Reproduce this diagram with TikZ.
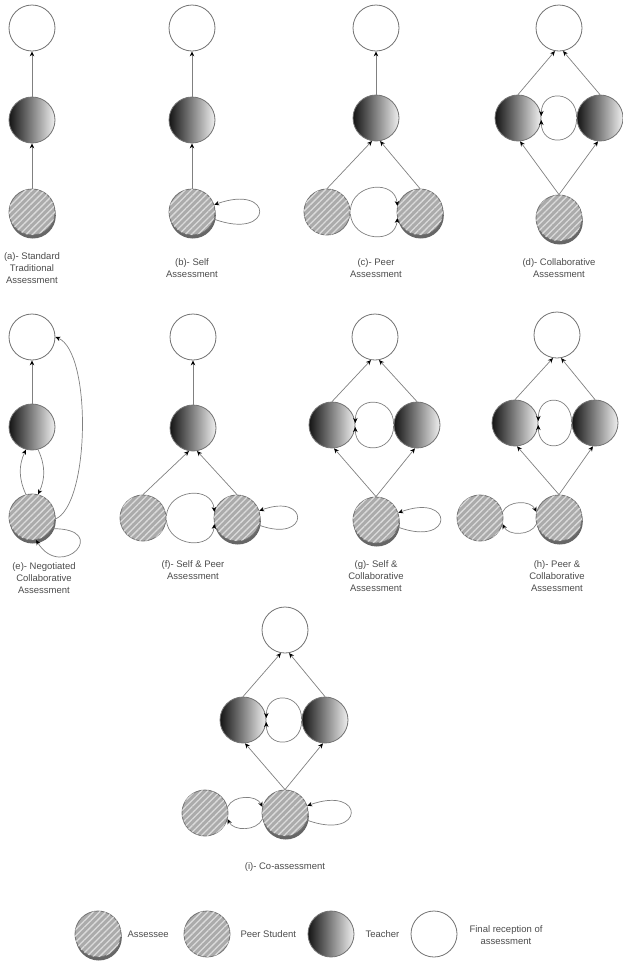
\documentclass[tikz,border=0pt]{standalone}
\usepackage{fontspec}
\setmainfont{Liberation Sans}
\usetikzlibrary{arrows.meta,patterns.meta,shadows}
\begin{document}
\begin{tikzpicture}[x=1pt,y=1pt,
 base/.style={circle, minimum size=46pt, inner sep=0pt, draw=black!55, line width=0.8pt},
 fin/.style={base, fill=white},
 teach/.style={base, left color=black!92, right color=black!6},
 peer/.style={base, fill=black!33, postaction={pattern={Lines[angle=45,distance=4.5pt,line width=1.3pt]}, pattern color=black!14}},
 asse/.style={peer, drop shadow={shadow xshift=0.8pt, shadow yshift=-3.5pt, fill=black!60, opacity=1}},
 con/.style={draw=black!50, line width=0.7pt, -{Stealth[length=5pt,width=4.5pt,color=black]}},
 lbl/.style={font=\fontsize{9.5}{12}\selectfont, text=black!70, align=center}]
\useasboundingbox (0,0) rectangle (623,-967);

% (a)
\node[fin] (aF) at (32,-28) {};
\node[teach] (aT) at (32,-120) {};
\node[asse] (aA) at (32,-212) {};
\draw[con] (aA) -- (aT);
\draw[con] (aT) -- (aF);
\node[lbl] (aL) at (32,-268) {(a)- Standard\\Traditional\\Assessment};

% (b)
\node[fin] (bF) at (192,-28) {};
\node[teach] (bT) at (192,-120) {};
\node[asse] (bA) at (192,-212) {};
\draw[con] (bA) -- (bT);
\draw[con] (bT) -- (bF);
\draw[con] (bA.-18) to[out=-20,in=20,distance=64pt] (bA.18);
\node[lbl] (bL) at (192,-268) {(b)- Self\\Assessment};

% (c)
\node[fin] (cF) at (376,-28) {};
\node[teach] (cT) at (376,-118) {};
\node[peer] (cP) at (327,-212) {};
\node[asse] (cA) at (420,-212) {};
\draw[con] (cP.north) -- (cT.-100);
\draw[con] (cA.north) -- (cT.-80);
\draw[con] (cT) -- (cF);
\draw[con] (cP.5) to[out=85,in=95,distance=27pt] (cA.165);
\draw[con] (cP.-5) to[out=-85,in=-95,distance=27pt] (cA.-165);
\node[lbl] (cL) at (376,-268) {(c)- Peer\\Assessment};

% (d)
\node[fin] (dF) at (559,-28) {};
\node[teach] (dT1) at (518,-118) {};
\node[teach] (dT2) at (600,-118) {};
\node[asse] (dA) at (559,-218) {};
\draw[con] (dA.north) -- (dT1.-85);
\draw[con] (dA.north) -- (dT2.-95);
\draw[con] (dT1.north) -- (dF.-100);
\draw[con] (dT2.north) -- (dF.-80);
\draw[con] (dT2.178) to[out=90,in=90,distance=27pt] (dT1.5);
\draw[con] (dT2.-178) to[out=-90,in=-90,distance=27pt] (dT1.-5);
\node[lbl] (dL) at (559,-268) {(d)- Collaborative\\Assessment};

% (e)
\node[fin] (eF) at (32,-337) {};
\node[teach] (eT) at (32,-427) {};
\node[asse] (eA) at (32,-517) {};
\draw[con] (eT) -- (eF);
\draw[con] (eA.105) to[out=115,in=-115] (eT.-105);
\draw[con] (eT.-75) to[out=-65,in=65] (eA.75);
\draw[con] (eA.-5) .. controls (90,-505) and (92,-352) .. (eF.east);
\draw[con] (eA.-30) .. controls (112,-528) and (62,-582) .. (eA.-80);
\node[lbl] (eL) at (44,-578) {(e)- Negotiated\\Collaborative\\Assessment};

% (f)
\node[fin] (fF) at (193,-337) {};
\node[teach] (fT) at (193,-428) {};
\node[peer] (fP) at (143,-518) {};
\node[asse] (fA) at (237,-518) {};
\draw[con] (fP.north) -- (fT.-100);
\draw[con] (fA.north) -- (fT.-80);
\draw[con] (fT) -- (fF);
\draw[con] (fP.5) to[out=85,in=95,distance=27pt] (fA.165);
\draw[con] (fP.-5) to[out=-85,in=-95,distance=27pt] (fA.-165);
\draw[con] (fA.-18) to[out=-20,in=20,distance=54pt] (fA.18);
\node[lbl] (fL) at (193,-570) {(f)- Self \& Peer\\Assessment};

% (g)
\node[fin] (gF) at (375,-337) {};
\node[teach] (gT1) at (332,-425) {};
\node[teach] (gT2) at (417,-425) {};
\node[asse] (gA) at (376,-520) {};
\draw[con] (gA.north) -- (gT1.-85);
\draw[con] (gA.north) -- (gT2.-95);
\draw[con] (gT1.north) -- (gF.-100);
\draw[con] (gT2.north) -- (gF.-80);
\draw[con] (gT2.178) to[out=90,in=90,distance=28pt] (gT1.5);
\draw[con] (gT2.-178) to[out=-90,in=-90,distance=28pt] (gT1.-5);
\draw[con] (gA.-18) to[out=-20,in=20,distance=60pt] (gA.18);
\node[lbl] (gL) at (376,-576) {(g)- Self \&\\Collaborative\\Assessment};

% (h)
\node[fin] (hF) at (557,-335) {};
\node[teach] (hT1) at (515,-423) {};
\node[teach] (hT2) at (595,-423) {};
\node[peer] (hP) at (480,-518) {};
\node[asse] (hA) at (559,-518) {};
\draw[con] (hA.north) -- (hT1.-85);
\draw[con] (hA.north) -- (hT2.-95);
\draw[con] (hT1.north) -- (hF.-100);
\draw[con] (hT2.north) -- (hF.-80);
\draw[con] (hT2.178) to[out=90,in=90,distance=28pt] (hT1.5);
\draw[con] (hT2.-178) to[out=-90,in=-90,distance=28pt] (hT1.-5);
\draw[con] (hP.15) to[out=65,in=115] (hA.165);
\draw[con] (hA.-165) to[out=-115,in=-65] (hP.-15);
\node[lbl] (hL) at (557,-576) {(h)- Peer \&\\Collaborative\\Assessment};

% (i)
\node[fin] (iF) at (285,-630) {};
\node[teach] (iT1) at (243,-720) {};
\node[teach] (iT2) at (325,-720) {};
\node[peer] (iP) at (205,-813) {};
\node[asse] (iA) at (285,-813) {};
\draw[con] (iA.north) -- (iT1.-85);
\draw[con] (iA.north) -- (iT2.-95);
\draw[con] (iT1.north) -- (iF.-100);
\draw[con] (iT2.north) -- (iF.-80);
\draw[con] (iT2.178) to[out=90,in=90,distance=27pt] (iT1.5);
\draw[con] (iT2.-178) to[out=-90,in=-90,distance=27pt] (iT1.-5);
\draw[con] (iP.15) to[out=65,in=115] (iA.165);
\draw[con] (iA.-165) to[out=-115,in=-65] (iP.-15);
\draw[con] (iA.-18) to[out=-20,in=20,distance=62pt] (iA.18);
\node[lbl] (iL) at (285,-867) {(i)- Co-assessment};

% legend
\node[asse] (lA) at (98,-934) {};
\node[lbl, anchor=west] (lAt) at (124,-934) {Assessee};
\node[peer] (lP) at (207,-934) {};
\node[lbl, anchor=west] (lPt) at (237,-934) {Peer Student};
\node[teach] (lT) at (331,-934) {};
\node[lbl, anchor=west] (lTt) at (362,-934) {Teacher};
\node[fin] (lF) at (434,-934) {};
\node[lbl] (lFt) at (506,-935) {Final reception of\\assessment};
\end{tikzpicture}
\end{document}
